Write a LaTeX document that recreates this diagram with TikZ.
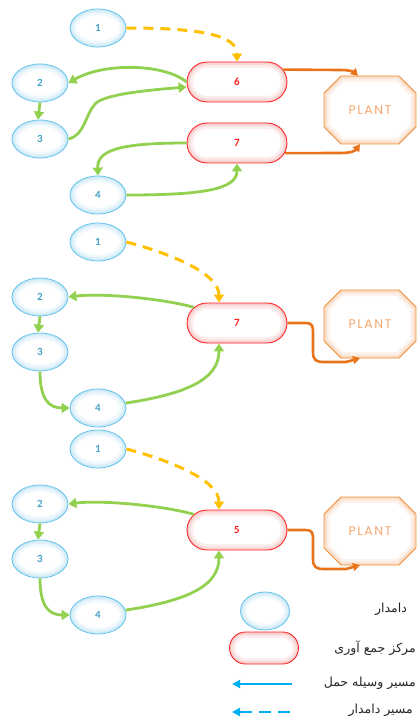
\documentclass[tikz,border=0pt]{standalone}
\usepackage{fontspec}
\usetikzlibrary{shapes.geometric,shapes.misc,arrows.meta,calc}
\TeXXeTstate=1
\newfontfamily\numfam{Carlito}
\newfontfamily\plantfam[LetterSpace=12]{Poppins}
\newfontfamily\fafont[Script=Arabic]{DejaVu Sans}

\definecolor{farmblue}{HTML}{64C3EC}
\definecolor{farmtext}{HTML}{4AA3C6}
\definecolor{farmtint}{HTML}{A9DCF3}
\definecolor{hubred}{HTML}{FF2A2A}
\definecolor{hubtext}{HTML}{FF2020}
\definecolor{hubtint}{HTML}{F5A3A3}
\definecolor{plantline}{HTML}{F0923C}
\definecolor{planttext}{HTML}{F6A76E}
\definecolor{planttint}{HTML}{F7C197}
\definecolor{haulgreen}{HTML}{92D050}
\definecolor{walkyellow}{HTML}{FFC000}
\definecolor{deliverorange}{HTML}{E8731A}
\definecolor{legendblue}{HTML}{00B0F0}

% soft inner glow along a border: three stacked translucent strokes
\newcommand\farmglowdraw[2]{%
  \foreach \w/\o in {12/0.18,7/0.25,3/0.35}{%
    \draw[farmtint, line width=\w pt, opacity=\o]
      (path picture bounding box.center) ellipse [x radius=#1, y radius=#2];}}
\newcommand\hubglowdraw[1]{%
  \foreach \w/\o in {12/0.18,7/0.25,3/0.35}{%
    \draw[hubtint, line width=\w pt, opacity=\o, rounded corners=#1]
      (path picture bounding box.south west) rectangle (path picture bounding box.north east);}}

\tikzset{
  farm/.style={ellipse, minimum width=56pt, minimum height=38pt, inner sep=0pt,
    draw=farmblue, line width=0.8pt, fill=white,
    path picture={\farmglowdraw{28pt}{19pt}},
    text=farmtext, font=\numfam\bfseries\fontsize{11}{13}\selectfont},
  hub/.style={rounded rectangle, minimum width=100pt, minimum height=40pt, inner sep=0pt,
    draw=hubred, line width=0.9pt, fill=white,
    path picture={\hubglowdraw{20pt}},
    text=hubtext, font=\numfam\bfseries\fontsize{11}{13}\selectfont},
  plantbox/.style={rectangle, minimum width=92pt, minimum height=68pt, inner sep=0pt,
    text=planttext, font=\plantfam\fontsize{12.5}{14}\selectfont},
  haul/.style={draw=haulgreen, line width=2.8pt, -{Triangle[width=10pt,length=8pt]}},
  walk/.style={draw=walkyellow, line width=3pt, dash pattern=on 10pt off 7pt,
    -{Triangle[width=10pt,length=8pt]}},
  deliver/.style={draw=deliverorange, line width=2.6pt, -{Triangle[width=8pt,length=7pt]}},
  legline/.style={draw=legendblue, line width=2pt, -{Triangle[width=8pt,length=8pt]}},
  legtext/.style={text=black!85, font=\fafont\fontsize{12.5}{14}\selectfont, inner sep=0pt}
}

% octagonal plant marker with its label node
\newcommand\octpath{(-46,-17) -- (-29,-34) -- (29,-34) -- (46,-17)
      -- (46,17) -- (29,34) -- (-29,34) -- (-46,17) -- cycle}
\newcommand\plantat[2]{%
  \begin{scope}[shift={#2}]
    \fill[white] \octpath;
    \begin{scope}
      \clip \octpath;
      \foreach \w/\o in {12/0.18,7/0.25,3/0.35}{%
        \draw[planttint, line width=\w pt, opacity=\o] \octpath;}
    \end{scope}
    \draw[plantline, line width=0.9pt] \octpath;
  \end{scope}
  \node[plantbox] (#1) at #2 {PLANT};}

% one collection centre served by four farms
\newcommand\hubgroup[3]{%
  \begin{scope}[shift={(0,#2)}]
    \node[farm] (#1f1) at (98,242) {1};
    \node[farm] (#1f2) at (40,297) {2};
    \node[farm] (#1f3) at (40,352) {3};
    \node[farm] (#1f4) at (98,408) {4};
    \node[hub] (#1h) at (237,323) {#3};
    \plantat{#1p}{(370,324)}
    \draw[walk] (#1f1.east) .. controls (165,252) and (219,272) .. ([xshift=-18pt]#1h.north);
    \draw[haul] (#1h.160) .. controls (160,298) and (100,293) .. (#1f2.east);
    \draw[haul] (#1f2.south) -- ([xshift=-2pt]#1f3.north);
    \draw[haul] (#1f3.south) .. controls (40,398) and (48,408) .. (#1f4.west);
    \draw[haul] (#1f4.10) .. controls (185,394) and (219,380) .. ([xshift=-18pt]#1h.south);
    \draw[deliver] (#1h.east) -- (305,323) .. controls (313,323) and (313,326) .. (313,334)
      -- (313,352) .. controls (313,360) and (316,362) .. (324,362) -- (346,362)
      -- ([xshift=-10pt]#1p.south);
  \end{scope}}

\begin{document}
\begin{tikzpicture}[x=1pt,y=-1pt]
\useasboundingbox (0,0) rectangle (417,722);

% first network: two collection centres
\node[farm] (a1) at (98,28) {1};
\node[farm] (a2) at (40,83) {2};
\node[farm] (a3) at (40,139) {3};
\node[farm] (a4) at (98,195) {4};
\node[hub] (c6) at (237,82) {6};
\node[hub] (c7) at (237,143) {7};
\plantat{p1}{(370,110)}

\draw[walk] (a1.east) .. controls (200,28) and (237,35) .. (c6.north);
\draw[haul] (c6.west) .. controls (165,64) and (105,62) .. (a2.east);
\draw[haul] (a2.south) -- ([xshift=-2pt]a3.north);
\draw[haul] (a3.east) .. controls (85,135) and (85,115) .. (95,104)
  .. controls (104,94) and (150,90) .. ([yshift=-5pt]c6.west);
\draw[haul] (c7.west) .. controls (120,143) and (97,150) .. (a4.north);
\draw[haul] (a4.east) .. controls (200,195) and (237,190) .. (c7.south);
\draw[deliver] (c6.15) -- (340,70) .. controls (350,70) and (354,72) .. ([xshift=-12pt]p1.north);
\draw[deliver] (c7.-12) -- (340,153) .. controls (351,153) and (355,151) .. ([xshift=-10pt]p1.south);

% second and third networks: one collection centre each
\hubgroup{b}{0}{7}
\hubgroup{d}{207}{5}

% legend
\node[farm, minimum width=49pt, minimum height=38pt,
  path picture={\farmglowdraw{24.5pt}{19pt}}] (lf) at (265,611) {};
\node[hub, minimum width=69pt, minimum height=32pt,
  path picture={\hubglowdraw{16pt}}] (lh) at (264,648) {};
\coordinate (ls1) at (292,684);
\coordinate (le1) at (232,684);
\draw[legline] (ls1) -- (le1);
\coordinate (ls2) at (290,712);
\coordinate (le2) at (232,712);
\draw[legline, dash pattern=on 12pt off 7pt] (ls2) -- (le2);

\node[legtext, anchor=east] (t1) at (407,609) {\beginR دامدار\endR};
\node[legtext, anchor=east] (t2) at (416,648) {\beginR مرکز جمع آوری\endR};
\node[legtext, anchor=east] (t3) at (416,683) {\beginR مسیر وسیله حمل\endR};
\node[legtext, anchor=east] (t4) at (413,710) {\beginR مسیر دامدار\endR};
\end{tikzpicture}
\end{document}
